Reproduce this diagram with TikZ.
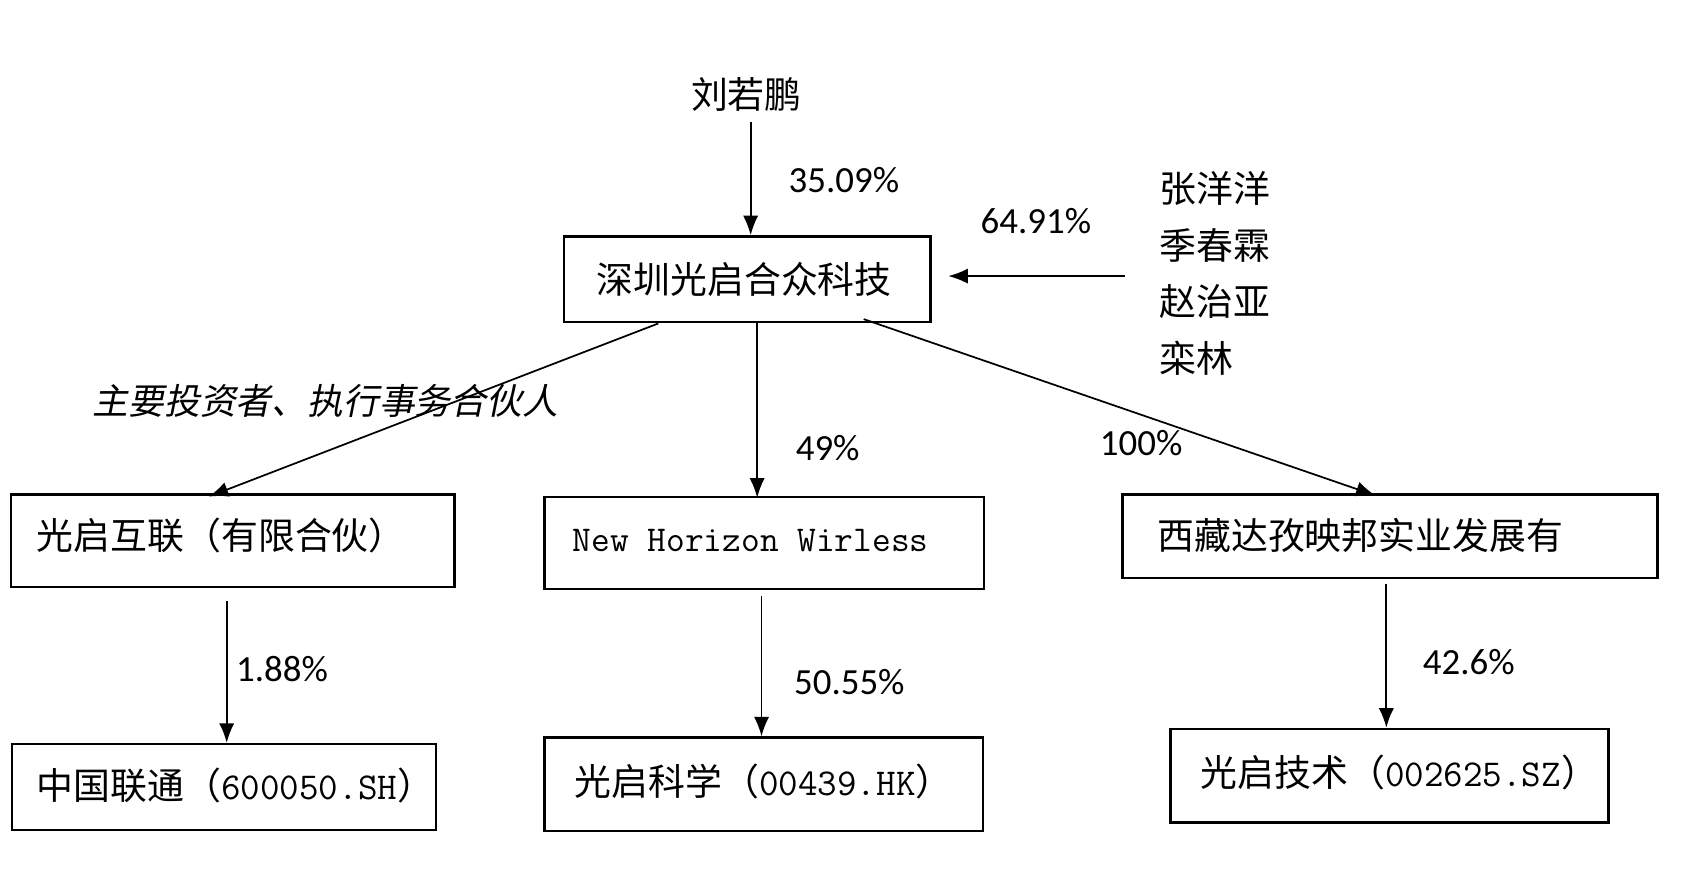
\documentclass[tikz,border=0pt]{standalone}
\usepackage{fontspec}
\setmainfont{Carlito}
\newfontfamily\cjk{Noto Sans CJK SC}
\newfontfamily\cjkit[FakeSlant=0.2]{Noto Sans CJK SC}
\usetikzlibrary{arrows.meta,calc}
\tikzset{
  box/.style={draw,line width=2.4pt,inner sep=0pt},
  cjktext/.style={inner sep=0pt,font=\cjk\fontsize{34pt}{40pt}\selectfont},
  pct/.style={inner sep=0pt,font=\fontsize{34pt}{40pt}\selectfont},
  arr/.style={line width=1.6pt,-{Latex[length=18pt,width=14pt]}},
}
\newcommand{\latinpart}[1]{{\ttfamily\fontsize{35pt}{40pt}\selectfont #1}}
\begin{document}
\begin{tikzpicture}[x=1pt,y=-1pt]
\useasboundingbox (0,0) rectangle (1569,824);
% boxes
\node[box,minimum width=338pt,minimum height=79pt] (top) at (689,257.5) {};
\node[box,minimum width=409pt,minimum height=85pt] (hl) at (214.5,498.5) {};
\node[box,minimum width=405pt,minimum height=85pt] (nhw) at (704.5,500.5) {};
\node[box,minimum width=493pt,minimum height=77pt] (xz) at (1281.5,494.5) {};
\node[box,minimum width=391pt,minimum height=79pt] (cu) at (206.5,725.5) {};
\node[box,minimum width=404pt,minimum height=86pt] (gs) at (704,723) {};
\node[box,minimum width=404pt,minimum height=86pt] (gj) at (1281,715) {};
% box texts
\node[cjktext] (topt) at (686,258) {深圳光启合众科技};
\node[cjktext] (hlt) at (204,494) {光启互联（有限合伙）};
\node[inner sep=0pt,font=\ttfamily\fontsize{33.5pt}{38pt}\selectfont] (nhwt) at (692,498) {New Horizon Wirless};
\node[cjktext] (xzt) at (1254,494) {西藏达孜映邦实业发展有};
\node[cjktext] (cut) at (217,724) {中国联通（\latinpart{600050.SH}）};
\node[cjktext] (gst) at (704,720) {光启科学（\latinpart{00439.HK}）};
\node[cjktext] (gjt) at (1290,712) {光启技术（\latinpart{002625.SZ}）};
% owners
\node[cjktext] (lr) at (688,87) {刘若鹏};
\node[inner sep=0pt,anchor=west,align=left,font=\cjk\fontsize{34pt}{52pt}\selectfont] (names) at (1069,252) {张洋洋\\季春霖\\赵治亚\\栾林};
% labels
\node[pct] (p1) at (778,166) {35.09\%};
\node[pct] (p2) at (955,204) {64.91\%};
\node[pct] (p3) at (763,413) {49\%};
\node[pct] (p4) at (1052,408) {100\%};
\node[pct] (p5) at (260,617) {1.88\%};
\node[pct] (p6) at (783,629) {50.55\%};
\node[pct] (p7) at (1354,610) {42.6\%};
\node[inner sep=0pt,font=\cjkit\fontsize{33pt}{40pt}\selectfont] (role) at (300,370) {主要投资者、执行事务合伙人};
% connectors
\draw[arr] ([xshift=4pt,yshift=-10pt]lr.south) -- ([xshift=3pt]top.north);
\draw[arr] ($(names.west|-top.east)+(-32,-3)$) -- ($(top.east)+(15,-3)$);
\draw[arr] ([xshift=88pt]top.south west) -- ([xshift=-22pt,yshift=-3pt]hl.north);
\draw[arr] ([xshift=9pt]top.south) -- ([xshift=-6.5pt,yshift=-2pt]nhw.north);
\draw[arr] ([xshift=-63pt,yshift=4pt]top.south east) -- ([xshift=-13.5pt,yshift=-2pt]xz.north);
\draw[arr] ([xshift=-5.5pt,yshift=-12pt]hl.south) -- ([xshift=2.5pt]cu.north);
\draw[arr] ([xshift=-2.5pt,yshift=-5pt]nhw.south) -- ([xshift=-2pt]gs.north);
\draw[arr] ([xshift=-3.5pt,yshift=-4pt]xz.south) -- ([xshift=-3pt]gj.north);
\end{tikzpicture}
\end{document}
